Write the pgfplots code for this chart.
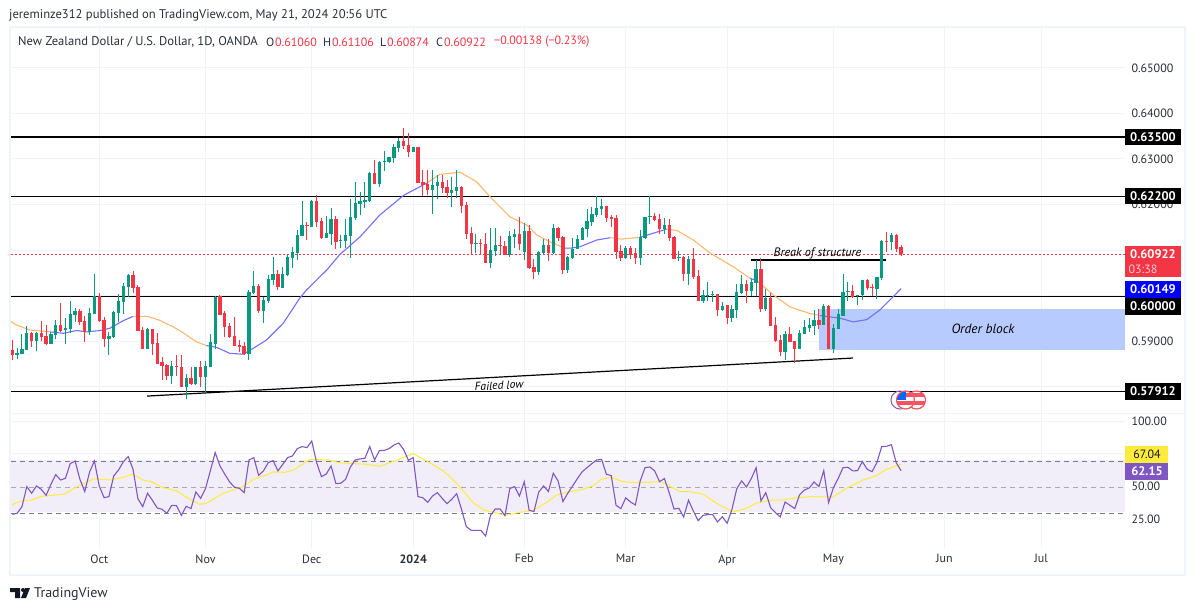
\documentclass[border=0pt]{standalone}
\usepackage{fontspec}
\setmainfont{PT Sans}
\usepackage{pgfplots}
\usepackage{pgfplotstable}
\pgfplotsset{compat=1.18}
\definecolor{cUp}{HTML}{089981}
\definecolor{cDn}{HTML}{F23645}
\definecolor{cMAb}{HTML}{7070F8}
\definecolor{cMAo}{HTML}{FFB870}
\definecolor{cRSI}{HTML}{7E57C2}
\definecolor{cYel}{HTML}{FFEB3B}
\definecolor{cGrid}{HTML}{F0F3FA}
\definecolor{cTxt}{HTML}{131722}
\definecolor{cAxT}{HTML}{2A2E39}
\definecolor{cBox}{HTML}{B8CBFF}
\definecolor{cBand}{HTML}{F0ECF8}
\definecolor{cDash}{HTML}{787B86}
\pgfplotstableread{
i c h t b l
1 0 0.5902 0.5880 0.5869 0.5858
2 1 0.5884 0.5873 0.5869 0.5860
3 1 0.5915 0.5882 0.5871 0.5871
4 1 0.5933 0.5917 0.5880 0.5880
5 0 0.5920 0.5917 0.5901 0.5887
6 1 0.5920 0.5917 0.5900 0.5879
7 0 0.5944 0.5917 0.5909 0.5900
8 0 0.5935 0.5911 0.5895 0.5891
9 1 0.5920 0.5915 0.5895 0.5893
10 1 0.5946 0.5935 0.5913 0.5904
11 0 0.5983 0.5935 0.5923 0.5920
12 1 0.5950 0.5928 0.5924 0.5893
13 1 0.5988 0.5959 0.5926 0.5917
14 1 0.5972 0.5966 0.5957 0.5942
15 0 0.5970 0.5966 0.5942 0.5935
16 0 0.5955 0.5944 0.5920 0.5898
17 1 0.5972 0.5961 0.5920 0.5913
18 1 0.6047 0.5998 0.5959 0.5959
19 0 0.6005 0.5998 0.5944 0.5942
20 0 0.5953 0.5946 0.5904 0.5887
21 1 0.5920 0.5911 0.5904 0.5869
22 1 0.5966 0.5964 0.5909 0.5906
23 1 0.6003 0.5988 0.5961 0.5942
24 1 0.6027 0.6021 0.5986 0.5959
25 1 0.6047 0.6045 0.6019 0.5997
26 0 0.6054 0.6045 0.6016 0.6005
27 0 0.6023 0.6019 0.5922 0.5922
28 0 0.5931 0.5924 0.5882 0.5882
29 1 0.5928 0.5926 0.5882 0.5882
30 0 0.5926 0.5926 0.5893 0.5869
31 0 0.5917 0.5895 0.5851 0.5849
32 0 0.5865 0.5853 0.5845 0.5814
33 0 0.5849 0.5847 0.5823 0.5814
34 1 0.5856 0.5845 0.5823 0.5805
35 0 0.5870 0.5845 0.5843 0.5823
36 0 0.5869 0.5843 0.5799 0.5799
37 1 0.5827 0.5818 0.5799 0.5772
38 0 0.5843 0.5818 0.5805 0.5803
39 1 0.5843 0.5843 0.5805 0.5803
40 0 0.5856 0.5843 0.5821 0.5799
41 1 0.5856 0.5845 0.5821 0.5788
42 1 0.5915 0.5898 0.5843 0.5843
43 1 0.5999 0.5997 0.5895 0.5882
44 0 0.6001 0.5999 0.5958 0.5957
45 0 0.5966 0.5961 0.5931 0.5909
46 0 0.5939 0.5933 0.5909 0.5906
47 0 0.5953 0.5911 0.5889 0.5889
48 0 0.5902 0.5891 0.5887 0.5876
49 0 0.5898 0.5889 0.5873 0.5869
50 1 0.6012 0.6008 0.5873 0.5858
51 1 0.6054 0.6021 0.6005 0.6003
52 0 0.6025 0.6021 0.5966 0.5961
53 1 0.5997 0.5990 0.5966 0.5939
54 1 0.6045 0.6036 0.5988 0.5983
55 1 0.6084 0.6047 0.6034 0.6023
56 0 0.6056 0.6047 0.6019 0.6012
57 1 0.6063 0.6047 0.6018 0.6016
58 1 0.6089 0.6085 0.6045 0.6043
59 1 0.6107 0.6096 0.6082 0.6060
60 1 0.6145 0.6134 0.6093 0.6078
61 1 0.6208 0.6155 0.6132 0.6131
62 0 0.6162 0.6155 0.6153 0.6121
63 1 0.6210 0.6208 0.6151 0.6151
64 0 0.6221 0.6208 0.6162 0.6151
65 0 0.6170 0.6164 0.6126 0.6124
66 1 0.6175 0.6137 0.6126 0.6126
67 1 0.6192 0.6168 0.6135 0.6111
68 0 0.6175 0.6168 0.6118 0.6102
69 1 0.6133 0.6122 0.6120 0.6104
70 1 0.6168 0.6133 0.6120 0.6104
71 1 0.6212 0.6173 0.6131 0.6082
72 1 0.6250 0.6203 0.6170 0.6166
73 1 0.6228 0.6208 0.6201 0.6177
74 1 0.6250 0.6210 0.6206 0.6192
75 1 0.6272 0.6269 0.6208 0.6206
76 0 0.6298 0.6269 0.6245 0.6245
77 1 0.6296 0.6294 0.6245 0.6239
78 1 0.6318 0.6295 0.6294 0.6274
79 1 0.6305 0.6305 0.6294 0.6291
80 1 0.6333 0.6327 0.6302 0.6291
81 1 0.6346 0.6340 0.6324 0.6316
82 0 0.6368 0.6340 0.6329 0.6322
83 0 0.6357 0.6331 0.6316 0.6305
84 1 0.6327 0.6327 0.6316 0.6316
85 0 0.6327 0.6327 0.6247 0.6247
86 0 0.6276 0.6250 0.6243 0.6218
87 0 0.6276 0.6245 0.6232 0.6220
88 1 0.6276 0.6243 0.6232 0.6179
89 1 0.6265 0.6250 0.6241 0.6212
90 0 0.6265 0.6250 0.6236 0.6225
91 0 0.6254 0.6239 0.6225 0.6214
92 1 0.6261 0.6232 0.6225 0.6195
93 1 0.6276 0.6239 0.6230 0.6214
94 0 0.6241 0.6239 0.6197 0.6181
95 0 0.6206 0.6199 0.6135 0.6124
96 0 0.6151 0.6137 0.6113 0.6089
97 1 0.6135 0.6115 0.6113 0.6093
98 0 0.6124 0.6115 0.6113 0.6091
99 0 0.6137 0.6113 0.6071 0.6071
100 1 0.6148 0.6100 0.6071 0.6060
101 1 0.6148 0.6111 0.6098 0.6087
102 0 0.6131 0.6111 0.6109 0.6089
103 0 0.6120 0.6109 0.6089 0.6089
104 1 0.6142 0.6131 0.6089 0.6085
105 1 0.6146 0.6135 0.6129 0.6104
106 0 0.6173 0.6135 0.6113 0.6100
107 1 0.6159 0.6142 0.6096 0.6078
108 0 0.6155 0.6142 0.6060 0.6058
109 0 0.6080 0.6063 0.6052 0.6036
110 1 0.6098 0.6096 0.6052 0.6045
111 1 0.6124 0.6111 0.6093 0.6091
112 0 0.6124 0.6111 0.6093 0.6076
113 1 0.6157 0.6148 0.6093 0.6091
114 0 0.6151 0.6148 0.6126 0.6120
115 0 0.6131 0.6129 0.6056 0.6047
116 1 0.6087 0.6085 0.6056 0.6049
117 1 0.6126 0.6102 0.6082 0.6080
118 1 0.6133 0.6124 0.6102 0.6102
119 1 0.6151 0.6148 0.6122 0.6122
120 1 0.6190 0.6164 0.6146 0.6129
121 1 0.6195 0.6179 0.6162 0.6153
122 1 0.6219 0.6192 0.6177 0.6173
123 1 0.6212 0.6197 0.6190 0.6177
124 0 0.6197 0.6197 0.6170 0.6162
125 0 0.6177 0.6173 0.6168 0.6151
126 0 0.6177 0.6170 0.6096 0.6080
127 0 0.6111 0.6098 0.6082 0.6076
128 1 0.6109 0.6104 0.6082 0.6080
129 0 0.6109 0.6104 0.6089 0.6080
130 0 0.6104 0.6093 0.6082 0.6069
131 1 0.6144 0.6129 0.6082 0.6067
132 1 0.6173 0.6173 0.6126 0.6124
133 1 0.6219 0.6175 0.6173 0.6157
134 0 0.6181 0.6175 0.6166 0.6164
135 0 0.6179 0.6168 0.6146 0.6135
136 1 0.6170 0.6155 0.6146 0.6135
137 0 0.6168 0.6155 0.6126 0.6120
138 0 0.6131 0.6129 0.6080 0.6080
139 1 0.6098 0.6085 0.6082 0.6076
140 0 0.6087 0.6085 0.6047 0.6032
141 1 0.6087 0.6080 0.6047 0.6023
142 0 0.6104 0.6080 0.6041 0.6036
143 0 0.6056 0.6043 0.5988 0.5988
144 1 0.6012 0.6001 0.5988 0.5983
145 1 0.6030 0.6001 0.5999 0.5988
146 1 0.6010 0.6003 0.6001 0.5986
147 0 0.6003 0.6003 0.5968 0.5955
148 1 0.5986 0.5978 0.5968 0.5966
149 0 0.5979 0.5979 0.5950 0.5937
150 1 0.5979 0.5970 0.5950 0.5942
151 1 0.6025 0.6008 0.5968 0.5950
152 1 0.6045 0.6025 0.6005 0.6003
153 0 0.6034 0.6025 0.6010 0.5983
154 1 0.6036 0.6030 0.6010 0.5999
155 1 0.6078 0.6058 0.6027 0.5999
156 0 0.6082 0.6058 0.5970 0.5964
157 1 0.6014 0.5994 0.5970 0.5966
158 0 0.6005 0.5994 0.5933 0.5933
159 0 0.5953 0.5935 0.5900 0.5898
160 0 0.5913 0.5902 0.5876 0.5867
161 1 0.5922 0.5915 0.5876 0.5858
162 0 0.5931 0.5915 0.5898 0.5898
163 0 0.5900 0.5900 0.5884 0.5851
164 1 0.5924 0.5917 0.5884 0.5884
165 1 0.5946 0.5931 0.5915 0.5915
166 1 0.5950 0.5935 0.5928 0.5920
167 1 0.5968 0.5946 0.5933 0.5913
168 0 0.5970 0.5946 0.5935 0.5926
169 1 0.5981 0.5977 0.5935 0.5935
170 0 0.5979 0.5977 0.5882 0.5882
171 1 0.5937 0.5928 0.5882 0.5873
172 1 0.5970 0.5959 0.5926 0.5926
173 1 0.6047 0.6008 0.5955 0.5955
174 1 0.6030 0.6010 0.6008 0.5988
175 0 0.6023 0.6010 0.5997 0.5994
176 1 0.6001 0.6001 0.5999 0.5979
177 1 0.6034 0.6034 0.6001 0.5990
178 0 0.6036 0.6034 0.6016 0.6012
179 0 0.6025 0.6019 0.6016 0.5999
180 1 0.6041 0.6041 0.6014 0.5992
181 1 0.6122 0.6120 0.6038 0.6034
182 0 0.6140 0.6120 0.6118 0.6096
183 1 0.6137 0.6133 0.6118 0.6100
184 0 0.6135 0.6133 0.6102 0.6096
185 0 0.6111 0.6106 0.6092 0.6087
}\candles
\pgfplotstableread{
i r
1 28.6
2 29.4
3 34.5
4 49.9
5 44.8
6 50.4
7 47.8
8 43.2
9 51.7
10 59.1
11 55.0
12 56.3
13 67.6
14 69.6
15 55.5
16 46.1
17 61.2
18 69.6
19 50.4
20 41.4
21 42.2
22 58.1
23 62.7
24 69.1
25 73.0
26 63.2
27 40.7
28 34.5
29 44.8
30 39.4
31 33.5
32 32.5
33 29.4
34 35.5
35 35.3
36 27.8
37 34.8
38 33.0
39 45.8
40 40.9
41 48.4
42 62.0
43 76.1
44 65.8
45 59.4
46 53.5
47 49.4
48 48.6
49 45.3
50 70.4
51 72.2
52 58.6
53 62.0
54 68.4
55 69.9
56 62.0
57 67.1
58 72.2
59 73.5
60 79.1
61 80.7
62 79.9
63 85.0
64 68.4
65 57.6
66 59.6
67 65.8
68 52.2
69 52.5
70 55.5
71 65.0
72 70.4
73 71.2
74 71.7
75 80.7
76 70.4
77 77.6
78 77.8
79 79.1
80 81.9
81 83.5
82 78.6
83 70.2
84 72.2
85 42.2
86 41.4
87 37.8
88 42.7
89 45.3
90 40.9
91 36.8
92 40.2
93 44.5
94 32.5
95 19.1
96 16.3
97 16.3
98 16.3
99 11.9
100 27.8
101 32.7
102 32.7
103 27.6
104 48.4
105 49.9
106 42.7
107 53.7
108 31.7
109 30.7
110 45.8
111 50.4
112 46.1
113 60.2
114 54.3
115 38.4
116 44.8
117 50.4
118 56.1
119 61.4
120 64.5
121 67.6
122 70.4
123 70.9
124 59.4
125 58.4
126 35.5
127 33.0
128 41.2
129 38.1
130 35.8
131 54.3
132 64.5
133 65.0
134 62.0
135 53.7
136 56.1
137 45.3
138 32.7
139 33.2
140 26.6
141 39.4
142 31.2
143 23.7
144 27.8
145 28.4
146 28.4
147 22.7
148 26.8
149 21.7
150 32.5
151 48.4
152 54.3
153 49.6
154 56.1
155 64.5
156 38.9
157 45.3
158 33.7
159 29.9
160 26.6
161 38.1
162 35.5
163 33.0
164 43.7
165 47.3
166 48.9
167 53.5
168 49.9
169 62.2
170 37.6
171 49.1
172 56.3
173 64.5
174 64.8
175 62.0
176 62.2
177 69.1
178 63.2
179 61.4
180 68.4
181 80.7
182 80.9
183 82.2
184 68.4
185 62.15
}\rsi
\newcommand{\PX}[2]{({#1*1pt},{(611-#2)*1pt})}
\newcommand{\Tag}[6]{% x1 Y1 x2 Y2 fill text
  \fill[#5] \PX{#1}{#2} rectangle \PX{#3}{#4};
  \node[text=white,font=\fontsize{12.5}{13}\selectfont\bfseries,anchor=center] at \PX{(#1+#3)/2}{(#2+#4)/2} {#6};}
\newcommand{\Hd}[4]{\node[anchor=west,inner sep=0pt,text=#3,font=\fontsize{12.6}{13}\selectfont] at \PX{#1}{#2} {#4};}
\newcommand{\Hv}[4]{\node[anchor=west,inner sep=0pt,text=#3,font=\fontsize{12}{13}\selectfont] at \PX{#1}{#2} {#4};}
\begin{document}
\begin{tikzpicture}
\useasboundingbox (0,0) rectangle (1195pt,611pt);
\fill[white] (0,0) rectangle (1195pt,611pt);
\begin{axis}[
  name=price, at={(11pt,198pt)}, anchor=south west, scale only axis,
  width=1114pt, height=386pt,
  xmin=0.73, xmax=231.37, ymin=0.57418, ymax=0.65901,
  axis line style={draw=none}, major tick length=0pt,
  xtick={19,41,63,84,107,128,149,171,194,214}, xticklabels={},
  ytick={0.59,0.62,0.63,0.64,0.65},
  extra y ticks={0.58,0.60,0.61}, extra y tick labels={},
  extra y tick style={grid=major},
  yticklabel pos=right, scaled y ticks=false,
  yticklabel style={/pgf/number format/fixed,/pgf/number format/precision=5,/pgf/number format/fixed zerofill,/pgf/number format/assume math mode=true,font=\fontsize{12}{13}\selectfont,text=cAxT,xshift=3pt},
  grid=major, major grid style={draw=cGrid,line width=1pt},
]
% order block
\fill[cBox] (axis cs:168.1,0.5880) rectangle (axis cs:231.37,0.5970);
% price levels
\addplot[black,line width=1.2pt,yshift=-0.8pt,forget plot] coordinates {(0.73,0.635) (231.37,0.635)};
\addplot[black,line width=1.2pt,yshift=-0.8pt,forget plot] coordinates {(0.73,0.622) (231.37,0.622)};
\addplot[black,line width=1.2pt,yshift=-0.8pt,forget plot] coordinates {(0.73,0.600) (231.37,0.600)};
\addplot[black,line width=1.2pt,yshift=-0.8pt,forget plot] coordinates {(0.73,0.57912) (231.37,0.57912)};
\addplot[draw=cDn,line width=1.1pt,dash pattern=on 1.6pt off 2.4pt,yshift=-0.8pt,forget plot] coordinates {(0.73,0.60922) (231.37,0.60922)};
\addplot[black,line width=1.2pt,forget plot] coordinates {(28.9,0.5779) (175.06,0.58626)};
\addplot[black,line width=1.2pt,forget plot] coordinates {(153.9,0.6078) (181.9,0.6078)};
% moving average
\addplot[cMAo,line width=1.1pt,forget plot] coordinates {(0.5,0.5944)(1.9,0.5935)(4.7,0.5924)(8.8,0.5920)};
\addplot[cMAb,line width=1.1pt,forget plot] coordinates {(8.8,0.5920)(11.6,0.5917)(14.3,0.5923)(16.4,0.5920)(19.1,0.5923)(21.2,0.5928)(24.0,0.5945)(26.0,0.5954)};
\addplot[cMAo,line width=1.1pt,forget plot] coordinates {(26.0,0.5954)(29.1,0.5954)(31.6,0.5945)(34.3,0.5931)(36.4,0.5918)(39.1,0.5898)(41.2,0.5890)};
\addplot[cMAb,line width=1.1pt,forget plot] coordinates {(41.2,0.5890)(43.3,0.5886)(46.0,0.5873)(48.8,0.5871)(50.9,0.5884)(53.6,0.5902)(57.1,0.5939)(60.5,0.5994)(61.9,0.6012)(66.1,0.6056)(68.8,0.6090)(73.0,0.6129)(77.1,0.6177)(82.0,0.6220)(86.8,0.6247)};
\addplot[cMAo,line width=1.1pt,forget plot] coordinates {(86.8,0.6247)(89.5,0.6266)(93.7,0.6271)(97.1,0.6250)(99.9,0.6217)(104.0,0.6173)(107.5,0.6155)(109.6,0.6133)(112.3,0.6118)(115.4,0.6104)};
\addplot[cMAb,line width=1.1pt,forget plot] coordinates {(115.4,0.6104)(116.5,0.6104)(118.5,0.6107)(122.0,0.6122)(124.8,0.6127)};
\addplot[cMAo,line width=1.1pt,forget plot] coordinates {(124.8,0.6127)(127.2,0.6124)(131.0,0.6128)};
\addplot[cMAb,line width=1.1pt,forget plot] coordinates {(131.0,0.6128)(136.5,0.6146)};
\addplot[cMAo,line width=1.1pt,forget plot] coordinates {(136.5,0.6146)(138.6,0.6143)(142.0,0.6122)(145.5,0.6093)(150.3,0.6063)(153.7,0.6038)};
\addplot[cMAb,line width=1.1pt,forget plot] coordinates {(153.7,0.6038)(155.1,0.6033)};
\addplot[cMAo,line width=1.1pt,forget plot] coordinates {(155.1,0.6033)(158.6,0.6001)(162.0,0.5975)(166.2,0.5960)(168.2,0.5956)};
\addplot[cMAb,line width=1.1pt,forget plot] coordinates {(168.2,0.5956)(172.4,0.5950)(175.1,0.5942)(177.9,0.5947)(180.6,0.5968)(185,0.60149)};
% candles
\addplot[draw=none,mark=none,forget plot,error bars/.cd,y dir=both,y explicit,error mark=none,error bar style={draw=cUp,solid,line width=1pt}]
 table[x expr={\thisrow{c}==1?\thisrow{i}:nan},y=t,y error plus expr=\thisrow{h}-\thisrow{t},y error minus expr=\thisrow{t}-\thisrow{l}] {\candles};
\addplot[draw=none,mark=none,forget plot,error bars/.cd,y dir=both,y explicit,error mark=none,error bar style={draw=cDn,solid,line width=1pt}]
 table[x expr={\thisrow{c}==0?\thisrow{i}:nan},y=t,y error plus expr=\thisrow{h}-\thisrow{t},y error minus expr=\thisrow{t}-\thisrow{l}] {\candles};
\addplot[draw=none,mark=none,forget plot,error bars/.cd,y dir=minus,y explicit,error mark=none,error bar style={draw=cUp,solid,line width=3.3pt}]
 table[x expr={\thisrow{c}==1?\thisrow{i}:nan},y=t,y error minus expr=\thisrow{t}-\thisrow{b}+0.00005] {\candles};
\addplot[draw=none,mark=none,forget plot,error bars/.cd,y dir=minus,y explicit,error mark=none,error bar style={draw=cDn,solid,line width=3.3pt}]
 table[x expr={\thisrow{c}==0?\thisrow{i}:nan},y=t,y error minus expr=\thisrow{t}-\thisrow{b}+0.00005] {\candles};
\end{axis}
\begin{axis}[
  name=rsi, at={(11pt,63pt)}, anchor=south west, scale only axis,
  width=1114pt, height=134pt,
  xmin=0.73, xmax=231.37, ymin=2.69, ymax=105.77,
  axis line style={draw=none}, major tick length=0pt,
  xtick={19,41,63,84,107,128,149,171,194,214},
  xticklabels={Oct,Nov,Dec,\textbf{2024},Feb,Mar,Apr,May,Jun,Jul},
  xticklabel style={font=\fontsize{12}{13}\selectfont,text=cAxT,yshift=-3pt},
  ytick={25,50,100},
  extra y ticks={75}, extra y tick labels={},
  extra y tick style={grid=major},
  yticklabel pos=right,
  yticklabel style={/pgf/number format/fixed,/pgf/number format/precision=2,/pgf/number format/fixed zerofill,/pgf/number format/assume math mode=true,font=\fontsize{12}{13}\selectfont,text=cAxT,xshift=3pt},
  grid=major, major grid style={draw=cGrid,line width=1pt},
]
\fill[cBand,opacity=0.85] (axis cs:0.73,30) rectangle (axis cs:231.37,70);
\addplot[cDash,line width=0.9pt,dash pattern=on 5pt off 4pt,yshift=-0.8pt,forget plot] coordinates {(0.73,70) (231.37,70)};
\addplot[cDash!65,line width=0.9pt,dash pattern=on 5pt off 4pt,yshift=-0.8pt,forget plot] coordinates {(0.73,50) (231.37,50)};
\addplot[cDash,line width=0.9pt,dash pattern=on 5pt off 4pt,yshift=-0.8pt,forget plot] coordinates {(0.73,30) (231.37,30)};
\addplot[cYel,line width=1pt,forget plot] coordinates {(1,36.1)(2.6,38.6)(5.0,39.6)(7.1,42.5)(8.8,43.0)(11.6,44.0)(12.9,46.6)(14.7,50.4)(17.8,55.8)(19.8,55.5)(21.2,55.0)(23.6,56.8)(25.7,59.4)(26.7,58.1)(28.0,55.0)(29.8,53.7)(32.2,49.1)(35.0,46.6)(37.4,40.9)(39.8,36.3)(41.2,37.1)(44.7,44.8)(48.8,49.9)(50.9,55.5)(53.6,58.9)(55.0,61.2)(57.4,60.9)(59.1,62.5)(62.6,70.9)(66.7,70.4)(68.8,68.1)(71.6,67.6)(74.3,67.1)(77.1,65.5)(80.5,70.2)(84.0,75.3)(87.4,68.4)(90.2,62.0)(91.6,57.6)(93.6,49.9)(96.4,37.6)(98.8,31.7)(100.9,29.9)(103.0,27.8)(105.3,29.6)(108.8,31.7)(111.6,37.6)(113.6,43.2)(116.7,46.3)(119.1,47.8)(121.2,50.4)(122.9,55.5)(125.0,57.1)(127.4,53.7)(130.9,53.0)(135.0,53.7)(136.4,51.7)(139.2,46.1)(141.2,46.1)(144.0,44.0)(146.8,37.1)(150.2,30.4)(153.0,33.2)(155.0,37.1)(157.8,39.4)(160.5,39.6)(163.3,41.4)(166.7,42.2)(170.9,41.9)(173.6,48.4)(177.1,55.0)(179.8,58.1)(181.9,63.2)(185,67.04)};
\addplot[cRSI,line width=1.1pt,forget plot] table[x=i,y=r] {\rsi};
\end{axis}
% frame
\draw[cGrid,line width=2pt] \PX{10}{27} rectangle \PX{1185}{575};
\draw[cGrid,line width=1.5pt] \PX{10}{413.5} -- \PX{1185}{413.5};
% price tags
\Tag{1125}{129}{1181}{145.5}{black}{0.63500}
\Tag{1125}{188}{1181}{204.5}{black}{0.62200}
\fill[cDn] \PX{1125}{246} rectangle \PX{1181}{277};
\node[text=white,font=\fontsize{12.5}{13}\selectfont\bfseries] at \PX{1153}{254} {0.60922};
\node[text=white!75!cDn,font=\fontsize{12}{13}\selectfont] at \PX{1143}{269} {03:38};
\Tag{1125}{281}{1181}{298}{blue}{0.60149}
\Tag{1125}{298}{1181}{315}{black}{0.60000}
\Tag{1125}{383}{1181}{400}{black}{0.57912}
% rsi tags
\fill[cYel] \PX{1125}{446} rectangle \PX{1168}{463};
\node[text=cTxt,font=\fontsize{12}{13}\selectfont] at \PX{1147}{454.5} {67.04};
\fill[cRSI] \PX{1125}{463} rectangle \PX{1168}{480};
\node[text=white,font=\fontsize{12.5}{13}\selectfont\bfseries] at \PX{1147}{471.5} {62.15};
% annotations
\node[font=\fontsize{12.2}{13}\selectfont\itshape,text=black,inner sep=0pt] at \PX{817.5}{253} {Break of structure};
\node[font=\fontsize{11.6}{12}\selectfont\itshape,text=black,inner sep=0pt,rotate=3] at \PX{499}{385.5} {Failed low};
\node[font=\fontsize{13.4}{14}\selectfont\itshape,text=black,inner sep=0pt] at \PX{983}{328.5} {Order block};
% event icons
\draw[cRSI,line width=1pt] \PX{900}{400} circle (9pt);
\begin{scope}
\clip \PX{916.5}{400} circle (9pt);
\fill[white] \PX{905}{390} rectangle \PX{927}{410};
\fill[cDn!85] \PX{905}{393} rectangle \PX{927}{397};
\fill[cDn!85] \PX{905}{401} rectangle \PX{927}{405};
\end{scope}
\draw[cDn!85,line width=1.2pt] \PX{916.5}{400} circle (9pt);
\begin{scope}
\clip \PX{905.5}{400} circle (9pt);
\fill[white] \PX{895}{390} rectangle \PX{916}{410};
\fill[cDn!85] \PX{895}{393} rectangle \PX{916}{397};
\fill[cDn!85] \PX{895}{401} rectangle \PX{916}{405};
\fill[blue!60!cyan] \PX{895}{390} rectangle \PX{906}{400};
\end{scope}
\draw[cDn!85,line width=1.2pt] \PX{905.5}{400} circle (9pt);
% header
\Hd{9}{15}{cAxT}{jereminze312 published on TradingView.com, May 21, 2024 20:56 UTC}
\Hd{18}{42}{cAxT}{New Zealand Dollar / U.S. Dollar, 1D, OANDA}
\Hv{266}{42}{cAxT}{O}\Hv{275}{42}{cDn}{0.61060}
\Hv{323}{42}{cAxT}{H}\Hv{332}{42}{cDn}{0.61106}
\Hv{380}{42}{cAxT}{L}\Hv{387}{42}{cDn}{0.60874}
\Hv{436}{42}{cAxT}{C}\Hv{444}{42}{cDn}{0.60922}
\Hv{494}{42}{cDn}{−0.00138 (−0.23\%)}
% logo
\fill[cTxt] \PX{10}{588} -- \PX{20}{588} -- \PX{20}{598} -- \PX{15}{598} -- \PX{15}{592} -- \PX{10}{592} -- cycle;
\fill[cTxt] \PX{23}{590} circle (2pt);
\fill[cTxt] \PX{25}{588} -- \PX{30}{588} -- \PX{26}{598} -- \PX{21}{598} -- cycle;
\node[anchor=west,inner sep=0pt,text=cAxT,font=\fontsize{14}{15}\selectfont] at \PX{34}{594} {TradingView};
\end{tikzpicture}
\end{document}
